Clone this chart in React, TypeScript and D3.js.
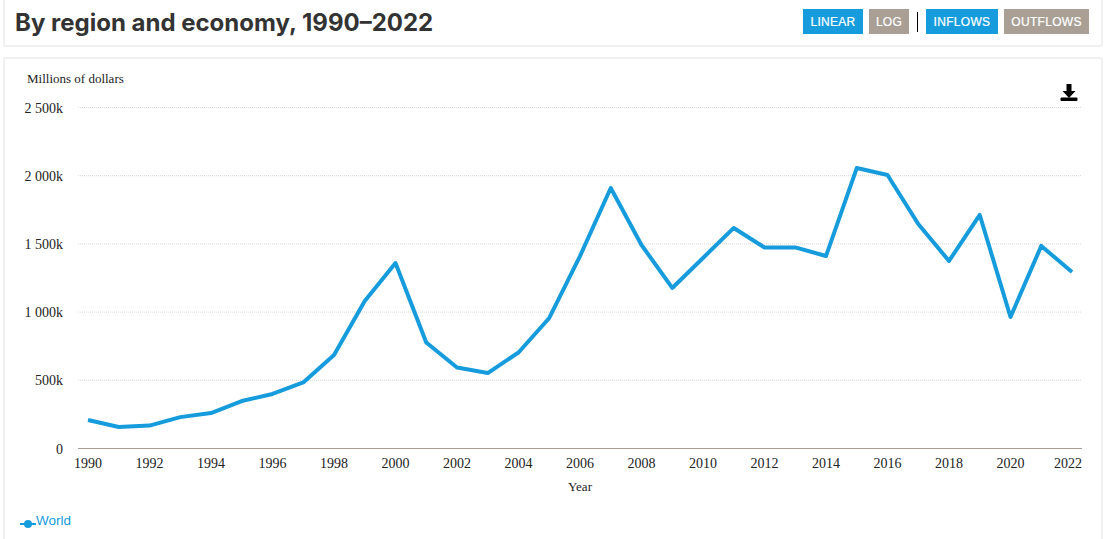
import React, { useEffect, useRef } from "react";
import * as d3 from "d3";

const years = d3.range(1990, 2023);
const inflows = [
  209, 158, 168, 230, 260, 348, 400, 484, 685, 1081, 1360, 777, 594, 553, 704, 957, 1411,
  1910, 1492, 1177, 1397, 1617, 1474, 1474, 1411, 2056, 2005, 1646, 1375, 1712, 964, 1485, 1294,
];
const yTicks = [0, 500, 1000, 1500, 2000, 2500];
const xTicks = [1990, 1992, 1994, 1996, 1998, 2000, 2002, 2004, 2006, 2008, 2010, 2012, 2014, 2016, 2018, 2020, 2022];
const buttonLabels = ["LINEAR", "LOG", "INFLOWS", "OUTFLOWS"];
const buttonActive = [true, false, true, false];

const BLUE = "#169cdc";
const TAUPE = "#a99f94";
const SERIF = "'Liberation Serif', serif";
const SANS = "'Liberation Sans', sans-serif";

export default function App() {
  const svgRef = useRef<SVGSVGElement | null>(null);

  useEffect(() => {
    document.body.style.margin = "0";
    const svg = d3.select(svgRef.current);
    svg.selectAll("*").remove();

    // cards
    const card = (x: number, y: number, w: number, h: number) =>
      svg.append("rect")
        .attr("x", x).attr("y", y).attr("width", w).attr("height", h)
        .attr("rx", 2)
        .attr("fill", "#fff")
        .attr("stroke", "#ececec")
        .attr("stroke-width", 1.5);
    card(4, -6, 1098, 52);
    card(4, 58, 1098, 490);

    // header
    svg.append("text")
      .attr("x", 15).attr("y", 31)
      .attr("fill", "#333")
      .style("font-family", "Inter, sans-serif")
      .style("font-weight", 700)
      .style("font-size", "24px")
      .text("By region and economy, 1990–2022");

    const buttonX = [803, 869, 926, 1004];
    const buttonW = [60, 40, 72, 85];
    buttonLabels.forEach((label, i) => {
      svg.append("rect")
        .attr("x", buttonX[i]).attr("y", 9)
        .attr("width", buttonW[i]).attr("height", 25)
        .attr("fill", buttonActive[i] ? BLUE : TAUPE);
      svg.append("text")
        .attr("x", buttonX[i] + buttonW[i] / 2).attr("y", 26)
        .attr("text-anchor", "middle")
        .attr("fill", "#fff")
        .attr("stroke", "#fff")
        .attr("stroke-width", 0.2)
        .style("font-family", SANS)
        .style("font-size", "12px")
        .style("letter-spacing", "0.3px")
        .text(label);
    });
    svg.append("line")
      .attr("x1", 917.5).attr("x2", 917.5).attr("y1", 12).attr("y2", 32)
      .attr("stroke", "#000");

    // scales
    const x = d3.scaleLinear().domain([1990, 2022]).range([88, 1072]);
    const y = d3.scaleLinear().domain([0, 2500]).range([448.5, 107.5]);

    // gridlines
    svg.append("g")
      .selectAll("line")
      .data(yTicks.filter((d) => d > 0))
      .join("line")
      .attr("x1", 78).attr("x2", 1082)
      .attr("y1", (d) => y(d)).attr("y2", (d) => y(d))
      .attr("stroke", "#d8d8d8")
      .attr("stroke-width", 1)
      .attr("stroke-dasharray", "1 1");

    svg.append("line")
      .attr("x1", 78).attr("x2", 1082)
      .attr("y1", y(0)).attr("y2", y(0))
      .attr("stroke", TAUPE)
      .attr("stroke-width", 1);

    // tick labels
    const yFormat = (d: number) => {
      if (d === 0) return "0";
      if (d < 1000) return `${d}k`;
      return `${Math.floor(d / 1000)} ${d3.format("03d")(d % 1000)}k`;
    };
    svg.append("g")
      .selectAll("text")
      .data(yTicks)
      .join("text")
      .attr("x", 63)
      .attr("y", (d) => y(d) + 5)
      .attr("text-anchor", "end")
      .attr("fill", "#222")
      .style("font-family", SERIF)
      .style("font-size", "14px")
      .text(yFormat);

    svg.append("g")
      .selectAll("text")
      .data(xTicks)
      .join("text")
      .attr("x", (d) => (d === 2022 ? 1082 : x(d)))
      .attr("y", 468)
      .attr("text-anchor", (d) => (d === 2022 ? "end" : "middle"))
      .attr("fill", "#222")
      .style("font-family", SERIF)
      .style("font-size", "14px")
      .text((d) => d);

    svg.append("text")
      .attr("x", 27).attr("y", 83)
      .attr("fill", "#222")
      .style("font-family", SERIF)
      .style("font-size", "13px")
      .text("Millions of dollars");

    svg.append("text")
      .attr("x", 580).attr("y", 491)
      .attr("text-anchor", "middle")
      .attr("fill", "#222")
      .style("font-family", SERIF)
      .style("font-size", "13px")
      .text("Year");

    // series
    const line = d3.line<number>()
      .x((_, i) => x(years[i]))
      .y((d) => y(d));
    svg.append("path")
      .datum(inflows)
      .attr("d", line)
      .attr("fill", "none")
      .attr("stroke", BLUE)
      .attr("stroke-width", 4)
      .attr("stroke-linejoin", "round");

    // legend
    svg.append("line")
      .attr("x1", 20).attr("x2", 36).attr("y1", 524).attr("y2", 524)
      .attr("stroke", BLUE).attr("stroke-width", 2);
    svg.append("circle")
      .attr("cx", 28).attr("cy", 524).attr("r", 4)
      .attr("fill", BLUE);
    svg.append("text")
      .attr("x", 36).attr("y", 525)
      .attr("fill", BLUE)
      .style("font-family", SANS)
      .style("font-size", "13.5px")
      .text("World");

    // download icon
    const icon = svg.append("g").attr("fill", "#000");
    icon.append("path").attr("d", "M1066.5 84h5v7h4l-6.5 7l-6.5-7h4z");
    icon.append("rect").attr("x", 1060.5).attr("y", 97.5).attr("width", 17).attr("height", 3.5).attr("rx", 1);
  }, []);

  return (
    <svg ref={svgRef} width={1114} height={539} style={{ display: "block" }} />
  );
}
